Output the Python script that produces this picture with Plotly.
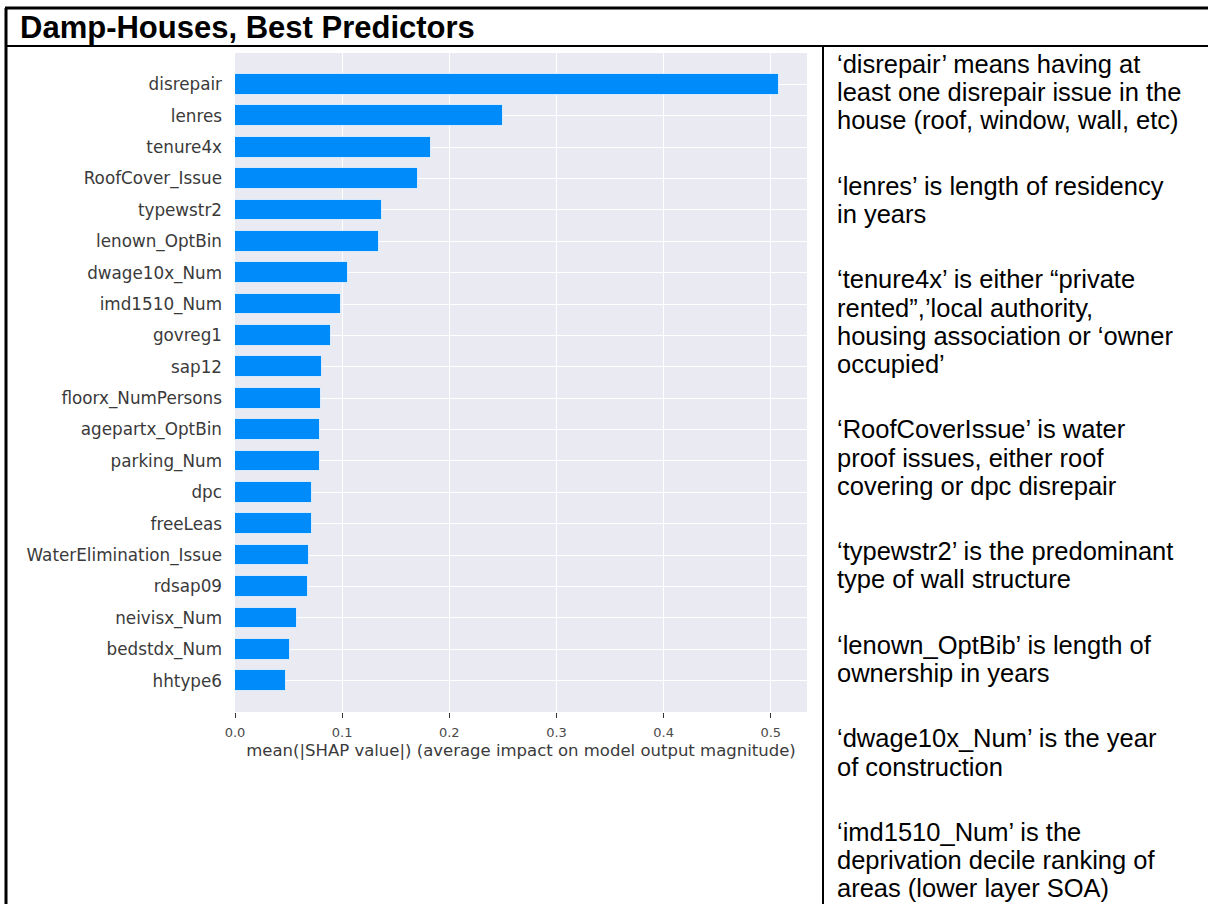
import plotly.graph_objects as go

# Feature importances (mean |SHAP|), ordered from most to least important
features = [
    "disrepair", "lenres", "tenure4x", "RoofCover_Issue", "typewstr2",
    "lenown_OptBin", "dwage10x_Num", "imd1510_Num", "govreg1", "sap12",
    "floorx_NumPersons", "agepartx_OptBin", "parking_Num", "dpc", "freeLeas",
    "WaterElimination_Issue", "rdsap09", "neivisx_Num", "bedstdx_Num", "hhtype6",
]
mean_abs_shap = [
    0.508, 0.250, 0.183, 0.171, 0.137,
    0.134, 0.105, 0.099, 0.090, 0.081,
    0.080, 0.079, 0.079, 0.072, 0.072,
    0.069, 0.068, 0.058, 0.051, 0.048,
]
x_ticks = [0.0, 0.1, 0.2, 0.3, 0.4, 0.5]
x_title = "mean(|SHAP value|) (average impact on model output magnitude)"
slide_title = "Damp-Houses, Best Predictors"

# Explanatory notes, one list of lines per paragraph
notes = [
    ["‘disrepair’ means having at", "least one disrepair issue in the",
     "house (roof, window, wall, etc)"],
    ["‘lenres’ is length of residency", "in years"],
    ["‘tenure4x’ is either “private", "rented”,’local authority,",
     "housing association or ‘owner", "occupied’"],
    ["‘RoofCoverIssue’ is water", "proof issues, either roof",
     "covering or dpc disrepair"],
    ["‘typewstr2’ is the predominant", "type of wall structure"],
    ["‘lenown_OptBib’ is length of", "ownership in years"],
    ["‘dwage10x_Num’ is the year", "of construction"],
    ["‘imd1510_Num’ is the", "deprivation decile ranking of",
     "areas (lower layer SOA)"],
]

W, H = 1208, 904
ML, MR, MT, MB = 235, 401, 53, 192
PW, PH = W - ML - MR, H - MT - MB


def px(x):
    return (x - ML) / PW


def py(y):
    return (H - MB - y) / PH


# Plot bottom-up so the most important feature sits at the top
fig = go.Figure(go.Bar(
    x=mean_abs_shap[::-1],
    y=list(range(len(features))),
    orientation="h",
    width=0.66,
    marker=dict(color="#008bfb", line=dict(color="rgba(255,255,255,0.7)", width=1)),
    hoverinfo="skip",
))

fig.update_layout(
    width=W, height=H,
    margin=dict(l=ML, r=MR, t=MT, b=MB),
    paper_bgcolor="white",
    plot_bgcolor="#eaeaf2",
    showlegend=False,
    font=dict(family="DejaVu Sans", color="#3a3a3a"),
    bargap=0,
)
fig.update_xaxes(
    range=[0, 0.5338],
    tickvals=x_ticks,
    tickformat=".1f",
    ticks="outside", ticklen=5, tickwidth=1, tickcolor="#333333",
    tickfont=dict(size=13, color="#4a4a4a"),
    ticklabelstandoff=3,
    showgrid=True, gridcolor="white", gridwidth=1.2,
    zeroline=False, showline=False,
    title=dict(text=x_title, font=dict(size=16.5, color="#3a3a3a"), standoff=5),
)
fig.update_yaxes(
    range=[-1, len(features)],
    tickvals=list(range(len(features))),
    ticktext=features[::-1],
    tickfont=dict(size=16.8, color="#3a3a3a"),
    ticks="", ticklabelstandoff=12,
    showgrid=True, gridcolor="white", gridwidth=1.2,
    zeroline=False, showline=False,
)

# Slide frame: outer border (top/left), title divider and column divider
frame = [
    (5, 8, W, 8, 3),
    (6, 8, 6, H, 3),
    (6, 46, W, 46, 2),
    (823, 46, 823, H, 2),
]
for x0, y0, x1, y1, w in frame:
    fig.add_shape(type="line", xref="paper", yref="paper",
                  x0=px(x0), y0=py(y0), x1=px(x1), y1=py(y1),
                  line=dict(color="black", width=w))

fig.add_annotation(
    text=f"<b>{slide_title}</b>", xref="paper", yref="paper",
    x=px(18), y=py(27.5), xanchor="left", yanchor="middle", showarrow=False,
    font=dict(family="Liberation Sans, Arial", size=31, color="black"),
)

line_step, para_gap = 28.2, 37.2
y = 64.0
for para in notes:
    for line in para:
        fig.add_annotation(
            text=line, xref="paper", yref="paper",
            x=px(835), y=py(y), xanchor="left", yanchor="middle", showarrow=False,
            font=dict(family="Liberation Sans, Arial", size=25.5, color="black"),
        )
        y += line_step
    y += para_gap

fig.write_html("out.html")
